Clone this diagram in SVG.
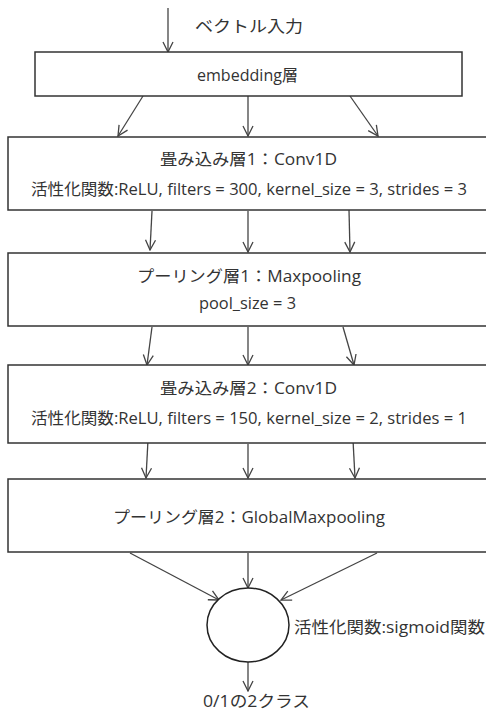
<svg xmlns="http://www.w3.org/2000/svg" width="486" height="713" viewBox="0 0 486 713">
<style>
.box{fill:#fff;stroke:#333;stroke-width:1.5}
.t{font-family:"Open Sans","Noto Sans CJK JP",sans-serif;font-size:16px;fill:#333;text-anchor:middle;dominant-baseline:central}
.c{stroke:#444;stroke-width:1.3;fill:none}
</style>
<defs>
<marker id="ah" viewBox="0 0 12 12" refX="11" refY="6" markerWidth="12" markerHeight="12" markerUnits="userSpaceOnUse" orient="auto">
<polyline points="1,1 11,6 1,11" fill="none" stroke="#444" stroke-width="1.3"/>
</marker>
</defs>
<rect width="486" height="713" fill="#fff"/>
<g id="connectors">
<line class="c" x1="168" y1="8" x2="168" y2="52" marker-end="url(#ah)"/>
<line class="c" x1="143" y1="96" x2="118" y2="136" marker-end="url(#ah)"/>
<line class="c" x1="248" y1="96" x2="248" y2="136" marker-end="url(#ah)"/>
<line class="c" x1="350" y1="96" x2="378" y2="136" marker-end="url(#ah)"/>
<line class="c" x1="152" y1="211" x2="150" y2="250" marker-end="url(#ah)"/>
<line class="c" x1="248" y1="211" x2="248" y2="252" marker-end="url(#ah)"/>
<line class="c" x1="349" y1="210" x2="350" y2="252" marker-end="url(#ah)"/>
<line class="c" x1="152" y1="327" x2="147" y2="365" marker-end="url(#ah)"/>
<line class="c" x1="248" y1="327" x2="248" y2="365" marker-end="url(#ah)"/>
<line class="c" x1="343" y1="327" x2="354" y2="365" marker-end="url(#ah)"/>
<line class="c" x1="148" y1="440" x2="146" y2="478" marker-end="url(#ah)"/>
<line class="c" x1="248" y1="444" x2="248" y2="478" marker-end="url(#ah)"/>
<line class="c" x1="353" y1="440" x2="355" y2="478" marker-end="url(#ah)"/>
<line class="c" x1="130" y1="553" x2="219" y2="600" marker-end="url(#ah)"/>
<line class="c" x1="248" y1="553" x2="248" y2="588" marker-end="url(#ah)"/>
<line class="c" x1="377" y1="553" x2="281" y2="600" marker-end="url(#ah)"/>
<line class="c" x1="248" y1="662" x2="248" y2="691" marker-end="url(#ah)"/>
</g>
<g id="input">
<text class="t" x="249" y="26" textLength="108" lengthAdjust="spacingAndGlyphs">ベクトル入力</text>
</g>
<g id="embedding">
<rect class="box" x="35" y="52" width="427" height="44"/>
<text class="t" x="247.5" y="75" textLength="101" lengthAdjust="spacingAndGlyphs">embedding層</text>
</g>
<g id="conv1">
<rect class="box" x="8" y="137" width="490" height="73"/>
<text class="t" x="248.5" y="159" textLength="177" lengthAdjust="spacingAndGlyphs">畳み込み層1：Conv1D</text>
<text class="t" x="249" y="189" textLength="436" lengthAdjust="spacingAndGlyphs">活性化関数:ReLU, filters = 300, kernel_size = 3, strides = 3</text>
</g>
<g id="pool1">
<rect class="box" x="8" y="253" width="490" height="73"/>
<text class="t" x="249" y="276" textLength="224" lengthAdjust="spacingAndGlyphs">プーリング層1：Maxpooling</text>
<text class="t" x="247.5" y="303" textLength="97" lengthAdjust="spacingAndGlyphs">pool_size = 3</text>
</g>
<g id="conv2">
<rect class="box" x="8" y="365" width="490" height="78"/>
<text class="t" x="248.5" y="388" textLength="177" lengthAdjust="spacingAndGlyphs">畳み込み層2：Conv1D</text>
<text class="t" x="249" y="418" textLength="436" lengthAdjust="spacingAndGlyphs">活性化関数:ReLU, filters = 150, kernel_size = 2, strides = 1</text>
</g>
<g id="pool2">
<rect class="box" x="8" y="479" width="490" height="73"/>
<text class="t" x="249" y="517" textLength="272" lengthAdjust="spacingAndGlyphs">プーリング層2：GlobalMaxpooling</text>
</g>
<g id="output">
<ellipse cx="248" cy="625" rx="41" ry="37" fill="#fff" stroke="#222" stroke-width="1.5"/>
<text class="t" x="389.5" y="627" textLength="191" lengthAdjust="spacingAndGlyphs">活性化関数:sigmoid関数</text>
</g>
<g id="result">
<text class="t" x="256.5" y="701" textLength="107" lengthAdjust="spacingAndGlyphs">0/1の2クラス</text>
</g>
</svg>
